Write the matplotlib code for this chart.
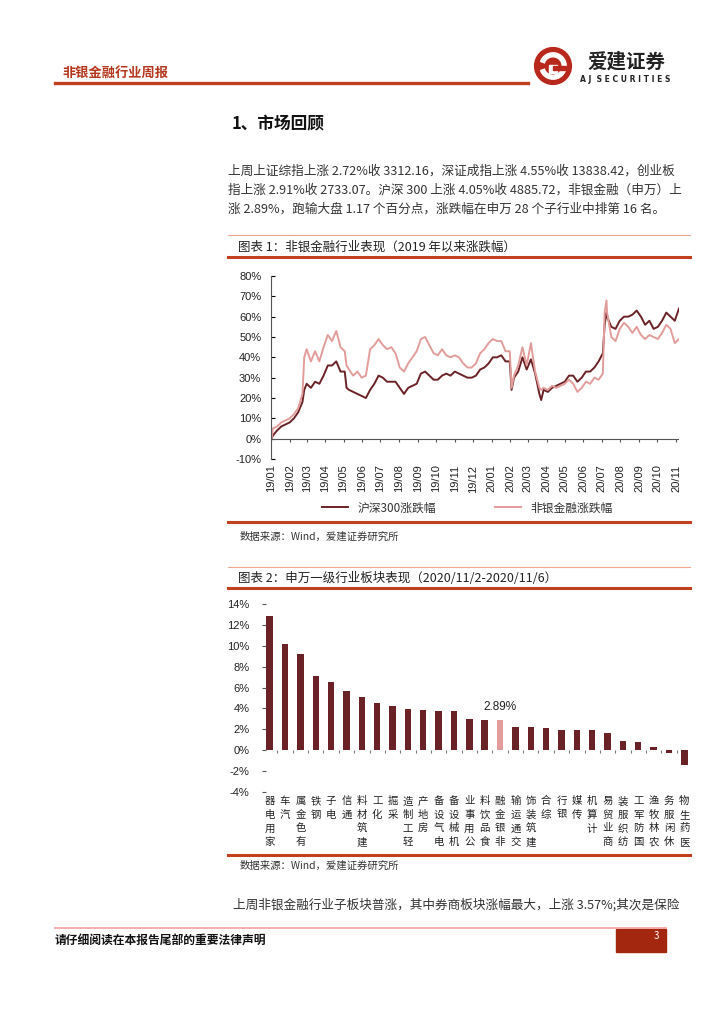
import numpy as np
import pandas as pd
import matplotlib
matplotlib.use('Agg')
from matplotlib import pyplot as plt
from matplotlib.lines import Line2D
from matplotlib.patches import Rectangle, Circle, Wedge

plt.rcParams['font.family'] = ['Noto Sans CJK SC', 'DejaVu Sans']
plt.rcParams['axes.unicode_minus'] = False

W, H = 724, 1024

# ---- chart 1: cumulative change since 2019 (%), weekly Friday readings ----
week_start = '2019-01-04'
hs300 = [1.5, 4, 6, 7, 8, 10, 13, 18, 27, 25,
         28, 27, 31, 36, 36, 38, 33, 33, 24, 23,
         22, 21, 20, 24, 27, 31, 30, 28, 28, 28,
         25, 22, 25, 26, 27, 32, 33, 31, 29, 29,
         31, 32, 31, 33, 32, 31, 30, 30, 31, 34,
         35, 37, 40, 40, 41, 38, 38, 30, 33, 40,
         34, 39, 32, 22, 24, 23, 25, 26, 27, 28,
         31, 31, 28, 30, 33, 33, 35, 38, 42, 60,
         55, 54, 58, 60, 60, 61, 63, 60, 56, 58,
         54, 55, 58, 62, 60, 58, 64]
nonbank = [5, 6, 8, 9, 10, 12, 15, 22, 44, 38,
           43, 38, 45, 51, 48, 53, 45, 43, 34, 31,
           33, 30, 31, 44, 46, 49, 46, 44, 45, 42,
           35, 33, 37, 40, 43, 49, 50, 46, 42, 41,
           44, 41, 40, 41, 40, 37, 35, 35, 37, 42,
           44, 47, 49, 48, 48, 43, 43, 31, 36, 45,
           36, 47, 33, 25, 25, 24, 26, 25, 26, 27,
           29, 27, 23, 25, 28, 27, 30, 29, 32, 62,
           50, 48, 54, 57, 55, 52, 55, 51, 49, 51,
           50, 49, 52, 56, 54, 47, 49]
# a few daily extremes between the Friday readings
extra_dates = ['2019-01-02', '2019-02-25', '2019-05-06', '2020-02-03',
               '2020-03-23', '2020-07-06', '2020-07-09']
extra_hs300 = [0, 24, 25, 24, 19, 56, 62]
extra_nonbank = [0, 40, 36, 25, 24, 62, 68]
month_labels = ['19/01', '19/02', '19/03', '19/04', '19/05', '19/06', '19/07', '19/08',
                '19/09', '19/10', '19/11', '19/12', '20/01', '20/02', '20/03', '20/04',
                '20/05', '20/06', '20/07', '20/08', '20/09', '20/10', '20/11']

# ---- chart 2: SW level-1 industries, 2020/11/2-2020/11/6 (%) ----
industries = ['家用电器', '汽车', '有色金属', '钢铁', '电子', '通信', '建筑材料', '化工',
              '采掘', '轻工制造', '房地产', '电气设备', '机械设备', '公用事业', '食品饮料',
              '非银金融', '交通运输', '建筑装饰', '综合', '银行', '传媒', '计算机',
              '商业贸易', '纺织服装', '国防军工', '农林牧渔', '休闲服务', '医药生物']
returns = [12.85, 10.15, 9.25, 7.15, 6.5, 5.63, 5.05, 4.5, 4.28, 3.93, 3.87, 3.78, 3.72,
           2.96, 2.87, 2.89, 2.25, 2.25, 2.16, 1.94, 1.94, 1.94, 1.68, 0.9, 0.82, 0.33,
           -0.26, -1.45]
highlight = '非银金融'

DARK = '#6A2226'
PINK = '#E29D9B'
RED = '#C3401F'
GREY = '#333333'

fig = plt.figure(figsize=(W / 100, H / 100), dpi=100)


def fx(x):
    return x / W


def fy(y):
    return 1 - y / H


def hline(x0, x1, y, color, lw):
    fig.add_artist(Line2D([fx(x0), fx(x1)], [fy(y), fy(y)], color=color, lw=lw))


def txt(x, y, s, **kw):
    kw.setdefault('va', 'center')
    kw.setdefault('color', GREY)
    fig.text(fx(x), fy(y), s, **kw)


# header
txt(62, 73, '非银金融行业周报', fontsize=9.5, fontweight='bold', color='#B5371C')
hline(55, 528, 83, RED, 2.4)

# logo
lax = fig.add_axes([fx(533), fy(86), 40 / W, 40 / H])
lax.set_xlim(-1, 1)
lax.set_ylim(-1, 1)
lax.set_aspect('equal')
lax.axis('off')
lax.add_patch(Circle((0, 0), 0.92, color='#B8281C'))
lax.add_patch(Wedge((0, 0), 0.66, 200, 520, width=0.2, color='white'))
lax.add_patch(Rectangle((-0.2, -0.36), 0.4, 0.4, color='white'))
lax.add_patch(Rectangle((0.0, -0.2), 0.66, 0.18, color='#B8281C'))
txt(626, 62, '爱建证券', fontsize=14, fontweight='bold', color='#222222', ha='center')
txt(625, 79, 'A J  S E C U R I T I E S', fontsize=5.5, fontweight='bold',
    color='#222222', ha='center', family='DejaVu Sans')

# section heading and paragraph
txt(232, 124, '1、市场回顾', fontsize=12, fontweight='bold', color='#111111')
para = ['上周上证综指上涨 2.72%收 3312.16，深证成指上涨 4.55%收 13838.42，创业板',
        '指上涨 2.91%收 2733.07。沪深 300 上涨 4.05%收 4885.72，非银金融（申万）上',
        '涨 2.89%，跑输大盘 1.17 个百分点，涨跌幅在申万 28 个子行业中排第 16 名。']
for i, line in enumerate(para):
    txt(228, 171 + 19 * i, line, fontsize=9.1)

# chart 1 frame
hline(228, 690, 235, '#F2A58F', 0.8)
txt(238, 247, '图表 1：非银金融行业表现（2019 年以来涨跌幅）', fontsize=9, color='#222222')
hline(228, 690, 257, RED, 2.2)

weekly = pd.date_range(week_start, periods=len(hs300), freq='7D')
s1 = pd.concat([pd.Series(hs300, index=weekly),
                pd.Series(extra_hs300, index=pd.to_datetime(extra_dates))]).sort_index()
s2 = pd.concat([pd.Series(nonbank, index=weekly),
                pd.Series(extra_nonbank, index=pd.to_datetime(extra_dates))]).sort_index()

ax1 = fig.add_axes([fx(271), fy(459), (679 - 271) / W, (459 - 276) / H])
ax1.plot(s1.index, s1.values, color=DARK, lw=1.4, label='沪深300涨跌幅')
ax1.plot(s2.index, s2.values, color=PINK, lw=1.4, label='非银金融涨跌幅')
ax1.set_ylim(-10, 80)
ax1.set_xlim(pd.Timestamp('2019-01-01'), pd.Timestamp('2020-11-06'))
ax1.set_yticks(range(-10, 81, 10))
ax1.set_yticklabels([f'{v}%' for v in range(-10, 81, 10)], fontsize=8, color='#222222',
                    family='Liberation Sans')
ax1.tick_params(axis='y', direction='in', length=3, width=0.8, pad=7)
month_ticks = pd.date_range('2019-01-01', periods=len(month_labels), freq='MS')
ax1.set_xticks(month_ticks)
ax1.set_xticklabels(month_labels, rotation=90, fontsize=8, color='#222222',
                    family='Liberation Sans')
ax1.tick_params(axis='x', length=0, pad=4)
ax1.axhline(0, color='#555555', lw=0.8)
ax1.vlines(month_ticks, -1.6, 0, color='#555555', lw=0.8)
for side in ['top', 'right', 'bottom']:
    ax1.spines[side].set_visible(False)
ax1.spines['left'].set_color('#555555')
ax1.spines['left'].set_linewidth(0.8)
ax1.legend(loc='center', bbox_to_anchor=(fx(467), fy(508)), bbox_transform=fig.transFigure,
           ncol=2, frameon=False, fontsize=8.5, handlelength=2.2, columnspacing=5,
           labelcolor='#333333')

hline(228, 690, 522, RED, 2.2)
txt(240, 537, '数据来源：Wind，爱建证券研究所', fontsize=7.5)

# chart 2 frame
hline(228, 690, 567, '#F2A58F', 0.8)
txt(238, 578, '图表 2：申万一级行业板块表现（2020/11/2-2020/11/6）', fontsize=9, color='#222222')
hline(228, 690, 588, RED, 2.2)

ax2 = fig.add_axes([fx(262), fy(792), (692 - 262) / W, (792 - 604) / H])
xpos = np.arange(len(industries))
colors = [PINK if n == highlight else DARK for n in industries]
ax2.bar(xpos, returns, width=0.42, color=colors)
ax2.set_xlim(-0.5, len(industries) - 0.5)
ax2.set_ylim(-4, 14)
ax2.set_yticks(range(-4, 15, 2))
ax2.set_yticklabels([f'{v}%' for v in range(-4, 15, 2)], fontsize=8, color='#222222',
                    family='Liberation Sans')
ax2.tick_params(axis='y', direction='in', length=3, width=0.8, pad=9, color='#555555')
ax2.spines['bottom'].set_position(('data', 0))
for side in ['top', 'right', 'bottom', 'left']:
    ax2.spines[side].set_visible(False)
ax2.set_xticks(xpos[:-1] + 0.5)
ax2.set_xticklabels([])
ax2.tick_params(axis='x', direction='out', length=2.5, width=0.8, color='#777777')
for i, name in enumerate(industries):
    ax2.text(i, -4.4, '\n'.join(name[::-1]), ha='center', va='top', fontsize=7.5,
             linespacing=1.45, color='#222222', clip_on=False)
k = industries.index(highlight)
ax2.annotate(f'{returns[k]:.2f}%', (k, returns[k]), xytext=(0, 5), textcoords='offset points',
             ha='center', va='bottom', fontsize=8.5, color='#222222', family='Liberation Sans')

hline(228, 690, 855, RED, 2.2)
txt(240, 866, '数据来源：Wind，爱建证券研究所', fontsize=7.5)

txt(233, 905, '上周非银金融行业子板块普涨，其中券商板块涨幅最大，上涨 3.57%;其次是保险', fontsize=9.1)

# footer
hline(55, 666, 928, '#F4A0A0', 1.2)
txt(55, 941, '请仔细阅读在本报告尾部的重要法律声明', fontsize=8.5, fontweight='bold', color='#111111')
fig.add_artist(Rectangle((fx(616), fy(952)), 50 / W, 23 / H, color='#A3260F'))
txt(656, 936, '3', fontsize=7, color='white', ha='center')

fig.savefig('out.png', dpi=100)
